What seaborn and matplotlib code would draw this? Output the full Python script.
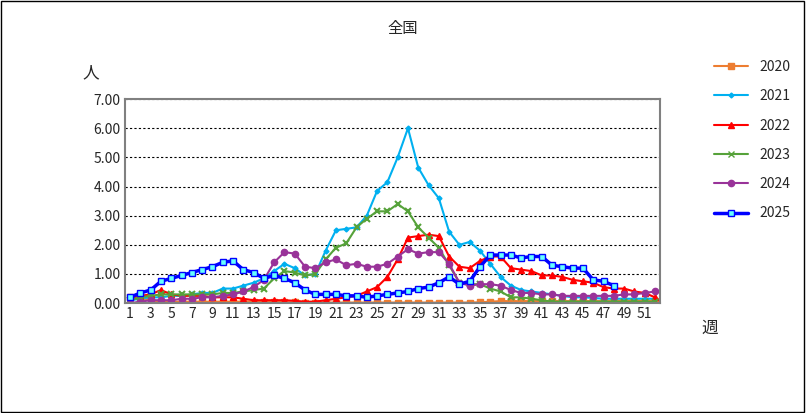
import matplotlib
matplotlib.use("Agg")
import matplotlib.pyplot as plt
import seaborn as sns
import numpy as np
import pandas as pd

sns.set_style("white")
plt.rcParams['font.family'] = ['Noto Sans CJK JP', 'DejaVu Sans']

weeks = list(range(1, 53))
v2020 = [0.2,0.15,0.1,0.05,0.05,0.05,0.05,0.05,0.05,0.05,0.05,0.05,0.05,0.05,0.05,0.03,0.03,0.02,0.02,0.02,
         0.02,0.02,0.02,0.02,0.02,0.02,0.02,0.02,0.02,0.02,0.02,0.02,0.02,0.02,0.03,0.05,0.07,0.07,0.07,0.07,
         0.07,0.07,0.07,0.07,0.07,0.07,0.07,0.07,0.08,0.08,0.08,0.08]
v2021 = [0.1,0.15,0.2,0.2,0.25,0.25,0.3,0.35,0.35,0.5,0.5,0.6,0.7,0.85,1.1,1.35,1.2,0.95,1.0,1.8,
         2.5,2.55,2.6,3.0,3.85,4.15,5.0,6.0,4.65,4.05,3.6,2.45,2.0,2.1,1.8,1.35,0.9,0.6,0.45,0.4,
         0.35,0.3,0.25,0.2,0.2,0.18,0.15,0.15,0.15,0.15,0.15,0.15]
v2022 = [0.2,0.25,0.3,0.45,0.3,0.25,0.25,0.25,0.2,0.2,0.2,0.15,0.1,0.1,0.1,0.1,0.08,0.05,0.05,0.1,
         0.15,0.2,0.25,0.4,0.55,0.9,1.5,2.25,2.3,2.35,2.3,1.6,1.25,1.2,1.45,1.6,1.6,1.2,1.15,1.1,
         0.95,0.95,0.9,0.8,0.75,0.7,0.55,0.5,0.5,0.4,0.35,0.2]
v2023 = [0.1,0.2,0.25,0.3,0.3,0.3,0.3,0.3,0.3,0.35,0.35,0.4,0.45,0.5,0.85,1.1,1.05,0.95,1.0,1.5,
         1.9,2.05,2.6,2.9,3.15,3.15,3.4,3.15,2.6,2.25,1.9,1.3,0.7,0.65,0.65,0.5,0.4,0.2,0.2,0.15,
         0.1,0.05,0.05,0.05,0.05,0.05,0.05,0.05,0.05,0.05,0.05,0.05]
v2024 = [0.0,0.05,0.1,0.1,0.1,0.15,0.15,0.2,0.2,0.25,0.3,0.4,0.55,0.8,1.4,1.75,1.7,1.25,1.2,1.4,
         1.5,1.3,1.35,1.25,1.25,1.35,1.6,1.85,1.7,1.75,1.75,1.35,0.7,0.6,0.65,0.65,0.6,0.45,0.35,0.35,
         0.3,0.3,0.25,0.25,0.25,0.25,0.25,0.25,0.3,0.3,0.35,0.4]
v2025 = [0.2,0.35,0.45,0.75,0.85,0.95,1.05,1.15,1.25,1.4,1.45,1.15,1.05,0.85,0.95,0.85,0.7,0.45,0.3,0.3,
         0.3,0.25,0.25,0.2,0.25,0.3,0.35,0.4,0.5,0.55,0.7,0.9,0.65,0.75,1.25,1.65,1.65,1.65,1.55,1.6,
         1.6,1.3,1.25,1.2,1.2,0.8,0.75,0.6]

series = [
    ("2020", v2020, "#ED7D31", "s", 4, 1.5, None),
    ("2021", v2021, "#00B0F0", "D", 2.5, 1.5, None),
    ("2022", v2022, "#FF0000", "^", 4, 1.5, None),
    ("2023", v2023, "#56A23A", "x", 5, 1.5, None),
    ("2024", v2024, "#993399", "o", 4.5, 1.5, None),
    ("2025", v2025, "#0000FF", "s", 5, 2.5, "#66FFFF"),
]

fig = plt.figure(figsize=(8.06, 4.13), dpi=100)
fig.patches.append(plt.Rectangle((0.001, 0.002), 0.997, 0.995, transform=fig.transFigure,
                                 fill=False, edgecolor="black", linewidth=1))
ax = fig.add_axes([0.155, 0.266, 0.664, 0.494])

handles = []
for name, vals, col, mk, ms, lw, mfc in series:
    df = pd.DataFrame({"week": weeks[:len(vals)], "val": vals})
    sns.lineplot(data=df, x="week", y="val", ax=ax, color=col, marker=mk, markersize=ms,
                 linewidth=lw, markerfacecolor=(mfc if mfc else col),
                 markeredgecolor=col, markeredgewidth=1 if mk != "x" else 1.5)
    h, = ax.plot([], [], color=col, marker=mk, markersize=ms, linewidth=lw,
                 markerfacecolor=(mfc if mfc else col), markeredgecolor=col)
    handles.append((h, name))

ax.set_xlim(0.5, 52.5)
ax.set_ylim(0, 7)
ax.set_yticks(np.arange(0, 7.01, 1))
ax.set_yticklabels([f"{v:.2f}" for v in np.arange(0, 7.01, 1)], fontsize=10)
ax.set_xticks(list(range(1, 52, 2)))
ax.set_xticklabels([str(w) for w in range(1, 52, 2)], fontsize=10)
ax.set_xlabel("")
ax.set_ylabel("")
ax.yaxis.grid(True, linestyle=(0, (2, 2)), color="black", linewidth=0.8)
for s in ax.spines.values():
    s.set_color("#808080")
    s.set_linewidth(1.5)
ax.tick_params(axis="both", length=0, pad=3)

fig.text(0.5, 0.93, "全国", ha="center", va="center", fontsize=11)
fig.text(0.113, 0.823, "人", ha="center", va="center", fontsize=12)
fig.text(0.88, 0.205, "週", ha="center", va="center", fontsize=12)

fig.legend([h for h, n in handles], [n for h, n in handles], loc="upper left",
           bbox_to_anchor=(0.87, 0.885), frameon=False, fontsize=10, labelspacing=1.1,
           handlelength=2.5)

fig.savefig("out.png", dpi=100)
